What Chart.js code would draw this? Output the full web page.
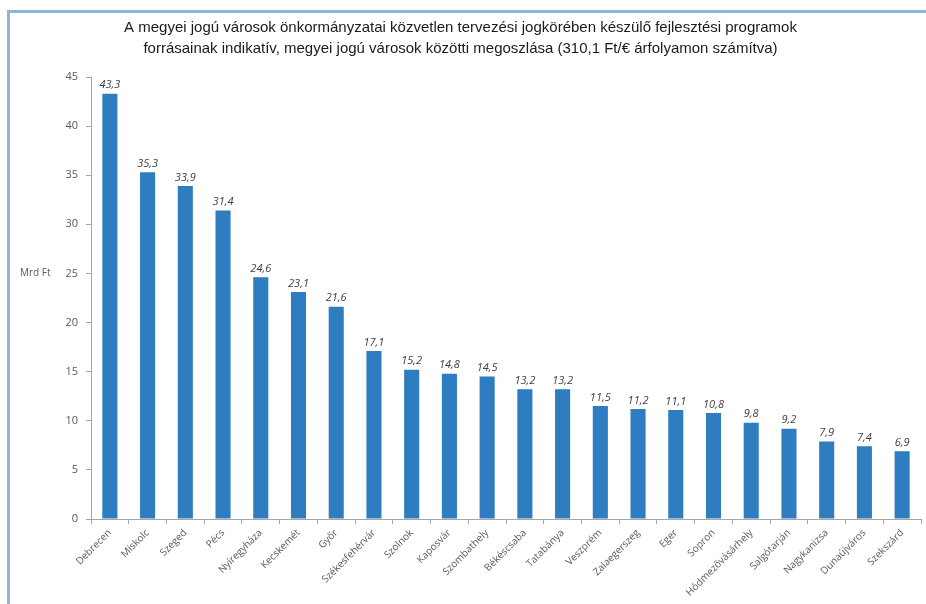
<!DOCTYPE html>
<html>
<head>
<meta charset="utf-8">
<script src="https://cdn.jsdelivr.net/npm/chart.js@4/dist/chart.umd.min.js"></script>
<style>
  html, body { margin: 0; padding: 0; background: #fff; }
  #keret { position: absolute; left: 7px; top: 10px; width: 930px; height: 610px; border: 3px solid #8db3e2; box-sizing: border-box; }
  #doboz { position: absolute; left: 0; top: 0; width: 926px; height: 604px; }
</style>
</head>
<body>
<div id="keret"></div>
<div id="doboz"><canvas id="grafikon" width="926" height="604"></canvas></div>
<script>
// Városok és a hozzájuk tartozó források (Mrd Ft)
const varosok = ['Debrecen', 'Miskolc', 'Szeged', 'Pécs', 'Nyíregyháza', 'Kecskemét', 'Győr',
  'Székesfehérvár', 'Szolnok', 'Kaposvár', 'Szombathely', 'Békéscsaba', 'Tatabánya', 'Veszprém',
  'Zalaegerszeg', 'Eger', 'Sopron', 'Hódmezővásárhely', 'Salgótarján', 'Nagykanizsa', 'Dunaújváros', 'Szekszárd'];
const forrasok = [43.3, 35.3, 33.9, 31.4, 24.6, 23.1, 21.6, 17.1, 15.2, 14.8, 14.5, 13.2, 13.2, 11.5,
  11.2, 11.1, 10.8, 9.8, 9.2, 7.9, 7.4, 6.9];
const yTengely = [0, 5, 10, 15, 20, 25, 30, 35, 40, 45];
const cim = ['A megyei jogú városok önkormányzatai közvetlen tervezési jogkörében készülő fejlesztési programok',
  'forrásainak indikatív, megyei jogú városok közötti megoszlása (310,1 Ft/€ árfolyamon számítva)'];

// Értékek kiírása az oszlopok fölé + a tengely felirata
const feliratok = {
  id: 'feliratok',
  afterDatasetsDraw(chart) {
    const ctx = chart.ctx;
    const meta = chart.getDatasetMeta(0);
    ctx.save();
    ctx.font = 'italic 11px "Open Sans"';
    ctx.fillStyle = '#404040';
    ctx.textAlign = 'center';
    ctx.textBaseline = 'bottom';
    meta.data.forEach((bar, i) => {
      ctx.fillText(forrasok[i].toFixed(1).replace('.', ','), bar.x, bar.y - 3);
    });
    ctx.font = '10px "Open Sans"';
    ctx.fillStyle = '#595959';
    ctx.textAlign = 'left';
    ctx.textBaseline = 'middle';
    const y = chart.scales.y.getPixelForValue(25);
    ctx.fillText('Mrd Ft', 20, y);
    ctx.restore();
  }
};

new Chart(document.getElementById('grafikon'), {
  type: 'bar',
  data: {
    labels: varosok,
    datasets: [{
      data: forrasok,
      backgroundColor: '#2e7dc0',
      categoryPercentage: 0.8,
      barPercentage: 0.5
    }]
  },
  options: {
    responsive: false,
    animation: false,
    layout: { padding: { left: 0, right: 5, top: 12, bottom: 4 } },
    plugins: {
      legend: { display: false },
      tooltip: { enabled: false },
      title: {
        display: true,
        text: cim,
        color: '#1a1a1a',
        font: { family: '"Liberation Sans Narrow", "Liberation Sans"', size: 15, weight: 'normal', lineHeight: 1.4 },
        padding: { top: 5, bottom: 18 }
      }
    },
    scales: {
      x: {
        grid: { display: true, drawOnChartArea: false, drawTicks: true, tickLength: 5, color: '#a6a6a6', offset: true },
        border: { color: '#a6a6a6' },
        ticks: {
          color: '#595959',
          font: { family: '"Open Sans"', size: 10 },
          minRotation: 45,
          maxRotation: 45,
          autoSkip: false
        },
        afterFit(scale) { scale.height = 81; }
      },
      y: {
        min: 0,
        max: 45,
        grid: { display: true, drawOnChartArea: false, drawTicks: true, tickLength: 5, color: '#a6a6a6' },
        border: { color: '#a6a6a6' },
        afterBuildTicks(scale) { scale.ticks = yTengely.map(v => ({ value: v })); },
        ticks: {
          color: '#595959',
          font: { family: '"Open Sans"', size: 11 },
          padding: 8
        },
        afterFit(scale) { scale.width = 91; }
      }
    }
  },
  plugins: [feliratok]
});
</script>
</body>
</html>
